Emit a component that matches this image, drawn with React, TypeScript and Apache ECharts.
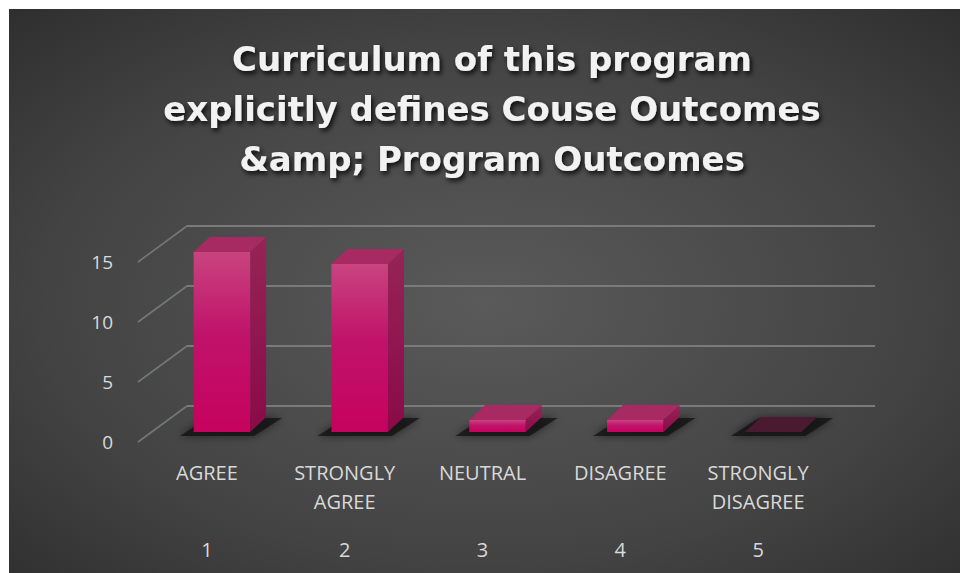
import React, { useEffect, useRef } from "react";
import * as echarts from "echarts";

const titleText = "Curriculum of this program\nexplicitly defines Couse Outcomes\n&amp; Program Outcomes";
const categories = ["AGREE", "STRONGLY\nAGREE", "NEUTRAL", "DISAGREE", "STRONGLY\nDISAGREE"];
const indexLabels = ["1", "2", "3", "4", "5"];
const values = [15, 14, 1, 1, 0];
const yTicks = [0, 5, 10, 15];

// 3D projection offsets (pixels)
const WALL_DX = 49;
const WALL_DY = -36;
const BAR_OX = 15;
const BAR_OY = -10;
const BAR_DX = 16;
const BAR_DY = -15;

export default function App() {
  const ref = useRef<HTMLDivElement>(null);

  useEffect(() => {
    if (!ref.current) return;
    const chart = echarts.init(ref.current, null, { renderer: "svg" });

    const labelFont = "'Open Sans', 'Noto Sans', sans-serif";
    const titleFont = "'DejaVu Sans', 'Open Sans', sans-serif";

    const wallItem = (params: any, api: any) => {
      const t = api.value(1);
      const cs = params.coordSys;
      const p = api.coord([0, t]);
      const x0 = cs.x;
      const y0 = p[1];
      const xb = x0 + WALL_DX;
      const yb = y0 + WALL_DY;
      const xe = cs.x + cs.width + WALL_DX - 1;
      return {
        type: "group",
        children: [
          {
            type: "line",
            shape: { x1: x0, y1: y0, x2: xb, y2: yb },
            style: { stroke: "#737873", lineWidth: 1.6 },
          },
          {
            type: "line",
            shape: { x1: xb, y1: yb, x2: xe, y2: yb },
            style: { stroke: "#7a7a7a", lineWidth: 2 },
          },
        ],
      };
    };

    const barItem = (params: any, api: any) => {
      const i = api.value(0);
      const v = api.value(1);
      const base = api.coord([i, 0]);
      const top = api.coord([i, v]);
      const band = api.size([1, 0])[0];
      const w = band * 0.41;
      const cx = base[0] + BAR_OX;
      const xl = cx - w / 2;
      const xr = cx + w / 2;
      const yb = base[1] + BAR_OY;
      const yt = top[1] + BAR_OY;
      const children: any[] = [];
      // floor shadow
      children.push({
        type: "polygon",
        shape: {
          points: [
            [xl - 14, yb + 4],
            [xr + 4, yb + 4],
            [xr + BAR_DX + 16, yb + BAR_DY + 1],
            [xl + BAR_DX - 2, yb + BAR_DY + 1],
          ],
        },
        style: {
          fill: "rgba(20,20,20,0.75)",
          shadowBlur: 8,
          shadowColor: "rgba(0,0,0,0.7)",
        },
      });
      if (v > 0) {
        children.push({
          type: "polygon",
          shape: {
            points: [
              [xr, yt],
              [xr + BAR_DX, yt + BAR_DY],
              [xr + BAR_DX, yb + BAR_DY],
              [xr, yb],
            ],
          },
          style: {
            fill: {
              type: "linear", x: 0, y: 0, x2: 0, y2: 1,
              colorStops: [
                { offset: 0, color: "#962456" },
                { offset: 1, color: "#8a0a48" },
              ],
            },
          },
        });
        children.push({
          type: "polygon",
          shape: {
            points: [
              [xl, yt],
              [xr, yt],
              [xr + BAR_DX, yt + BAR_DY],
              [xl + BAR_DX, yt + BAR_DY],
            ],
          },
          style: { fill: "#a82a62" },
        });
        children.push({
          type: "rect",
          shape: { x: xl, y: yt, width: w, height: yb - yt },
          style: {
            fill: {
              type: "linear", x: 0, y: 0, x2: 0, y2: 1,
              colorStops: [
                { offset: 0, color: "#c9447f" },
                { offset: 0.45, color: "#c0136a" },
                { offset: 1, color: "#c6025e" },
              ],
            },
          },
        });
      } else {
        children.push({
          type: "polygon",
          shape: {
            points: [
              [xl, yt],
              [xr, yt],
              [xr + BAR_DX, yt + BAR_DY],
              [xl + BAR_DX, yt + BAR_DY],
            ],
          },
          style: { fill: "#4a1a30" },
        });
      }
      return { type: "group", children };
    };

    chart.setOption({
      animation: false,
      backgroundColor: "#ffffff",
      graphic: [
        {
          type: "rect",
          z: -10,
          silent: true,
          shape: { x: 9, y: 9, width: 951, height: 564 },
          style: {
            fill: {
              type: "radial", x: 0.5, y: 0.52, r: 0.92,
              colorStops: [
                { offset: 0, color: "#5a5a5a" },
                { offset: 0.5, color: "#434343" },
                { offset: 0.85, color: "#2a2a2a" },
                { offset: 1, color: "#262626" },
              ],
            },
          },
        },
      ],
      title: {
        text: titleText,
        left: 487,
        textAlign: "center",
        top: 29,
        textStyle: {
          fontFamily: titleFont,
          fontWeight: "bold",
          fontSize: 34,
          lineHeight: 50,
          color: "#f2f2f2",
          textShadowColor: "rgba(0,0,0,0.85)",
          textShadowBlur: 5,
          textShadowOffsetX: 2,
          textShadowOffsetY: 3,
        },
      },
      grid: { left: 138, right: 133, top: 262, bottom: 131 },
      xAxis: [
        {
          type: "category",
          data: categories,
          axisLine: { show: false },
          axisTick: { show: false },
          splitLine: { show: false },
          axisLabel: {
            interval: 0,
            color: "#d9d9d9",
            fontFamily: labelFont,
            fontSize: 20,
            lineHeight: 29,
            margin: 16,
          },
        },
        {
          type: "category",
          data: indexLabels,
          position: "bottom",
          offset: 77,
          axisLine: { show: false },
          axisTick: { show: false },
          splitLine: { show: false },
          axisLabel: {
            interval: 0,
            color: "#d9d9d9",
            fontFamily: labelFont,
            fontSize: 20,
            lineHeight: 29,
            margin: 16,
          },
        },
      ],
      yAxis: {
        type: "value",
        min: 0,
        max: 15,
        interval: 5,
        axisLine: { show: false },
        axisTick: { show: false },
        splitLine: { show: false },
        axisLabel: {
          color: "#d9d9d9",
          fontFamily: labelFont,
          fontSize: 19,
          margin: 25,
        },
      },
      series: [
        {
          type: "custom",
          name: "walls",
          xAxisIndex: 0,
          yAxisIndex: 0,
          silent: true,
          z: 1,
          encode: { x: 0, y: 1 },
          data: yTicks.map((t) => [0, t]),
          renderItem: wallItem,
        },
        {
          type: "custom",
          name: "Responses",
          xAxisIndex: 0,
          yAxisIndex: 0,
          z: 3,
          encode: { x: 0, y: 1 },
          data: values.map((v, i) => [i, v]),
          renderItem: barItem,
        },
      ],
    });

    return () => chart.dispose();
  }, []);

  return (
    <div
      ref={ref}
      style={{ position: "absolute", left: 0, top: 0, width: 960, height: 573 }}
    />
  );
}
